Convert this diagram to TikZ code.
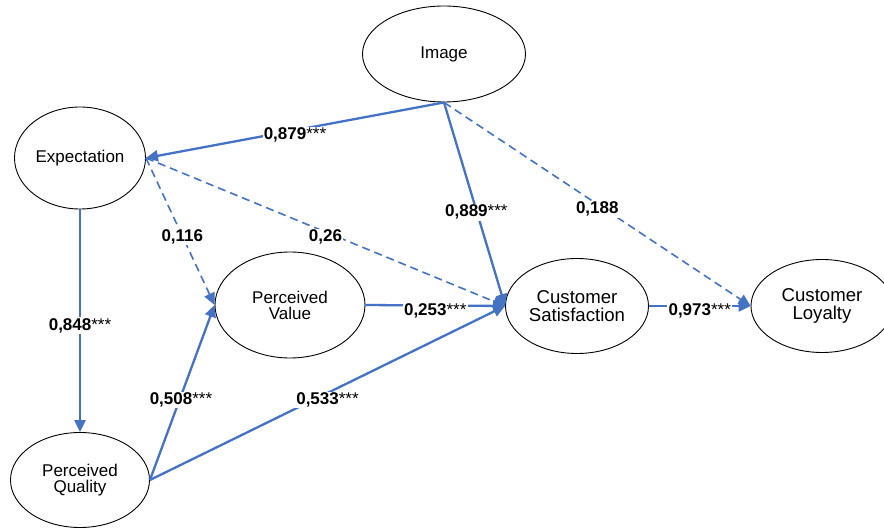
\documentclass[tikz,border=0pt]{standalone}
\usepackage{fontspec}
\setmainfont{Liberation Sans}
\usetikzlibrary{arrows.meta,shapes.geometric}
\definecolor{pathblue}{RGB}{68,114,196}
\newcommand{\sigstars}{\textmd{***}}
\begin{document}
\begin{tikzpicture}[
			x=0.5pt, y=-0.5pt,
			latent/.style={ellipse,draw,line width=0.45pt,inner sep=0pt,align=center,font=\fontsize{8.5}{8}\selectfont},
			bigtext/.style={font=\fontsize{9.3}{9}\selectfont},
			sig/.style={draw=pathblue,line width=1.15pt,-{Triangle[length=6pt,width=5.5pt]}},
			ns/.style={draw=pathblue,line width=0.8pt,dash pattern=on 4pt off 2.5pt,-{Triangle[length=6pt,width=5.5pt]}},
			coef/.style={fill=white,inner sep=0.6pt,yshift=-2.5pt,font=\fontsize{8.5}{8}\selectfont\bfseries}
		]
		\useasboundingbox (0,0) rectangle (884,529);
		\fill[white] (0,0) rectangle (884,529);

		\node[latent,minimum width=81.5pt,minimum height=48pt] (img) at (444,54) {Image};
		\node[latent,minimum width=65.5pt,minimum height=51pt] (exp) at (80,158) {Expectation};
		\node[latent,minimum width=75pt,minimum height=53pt] (pv) at (290,305) {Perceived\\Value};
		\node[latent,minimum width=69.5pt,minimum height=47.5pt] (pq) at (80,480) {Perceived\\Quality};
		\node[latent,bigtext,minimum width=71.5pt,minimum height=47.5pt] (cs) at (577,306) {Customer\\Satisfaction};
		\node[latent,bigtext,minimum width=71pt,minimum height=46.5pt] (cl) at (822,306) {Customer\\Loyalty};

		% paths from image
		\draw[sig] (img.south) -- node[coef] {0,879\sigstars} (exp.east);
		\draw[sig] (img.south) -- node[coef,pos=0.53,yshift=1.5pt] {0,889\sigstars} (cs.west);
		\draw[ns] (img.south) -- node[coef,pos=0.5] {0,188} (cl.west);

		% paths from expectation
		\draw[ns] (exp.east) -- node[coef,pos=0.53,yshift=2pt] {0,116} (pv.west);
		\draw[ns] (exp.east) -- node[coef] {0,26} (cs.west);
		\draw[sig] (exp.south) -- node[coef] {0,848\sigstars} (pq.north);

		% paths from quality and value
		\draw[sig] (pq.east) -- node[coef,pos=0.48,yshift=0.5pt] {0,508\sigstars} (pv.west);
		\draw[sig] (pq.east) -- node[coef,yshift=-1pt] {0,533\sigstars} (cs.west);
		\draw[sig] (pv.east) -- node[coef] {0,253\sigstars} (cs.west);
		\draw[sig] (cs.east) -- node[coef] {0,973\sigstars} (cl.west);
	\end{tikzpicture}
\end{document}
